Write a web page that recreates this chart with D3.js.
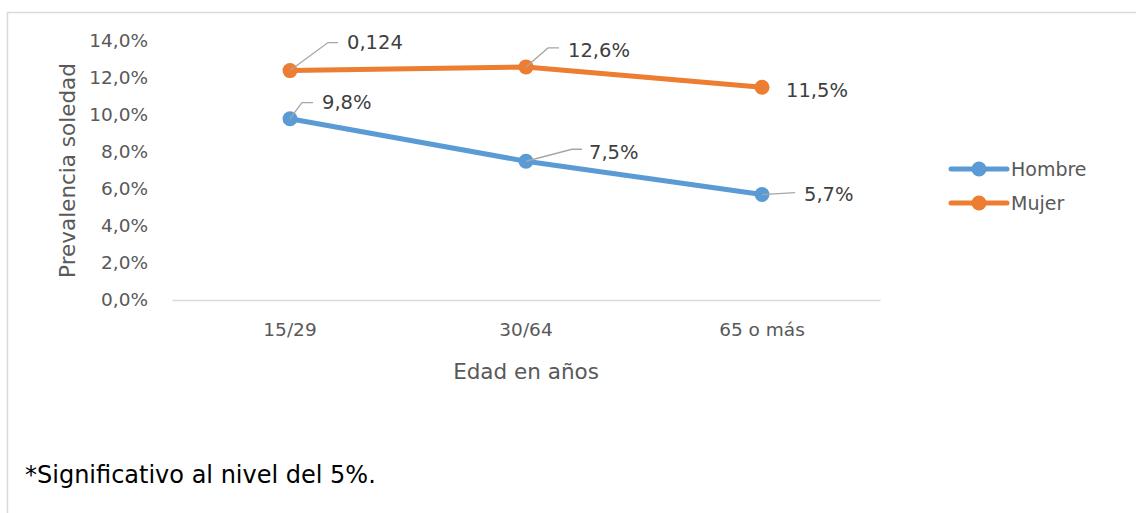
<!DOCTYPE html>
<html>
<head>
<meta charset="utf-8">
<script src="https://cdn.jsdelivr.net/npm/d3@7"></script>
<style>
  html, body { margin: 0; padding: 0; background: #fff; }
</style>
</head>
<body>
<script>
// Data
const categories = ["15/29", "30/64", "65 o más"];
const hombre = [9.8, 7.5, 5.7];
const mujer = [12.4, 12.6, 11.5];
const mujerLabels = ["0,124", "12,6%", "11,5%"];
const hombreLabels = ["9,8%", "7,5%", "5,7%"];
const yTicks = [0, 2, 4, 6, 8, 10, 12, 14];

const width = 1136;
const height = 513;
const marginLeft = 172;
const plotRight = 880;
const yTop = 41;
const yBottom = 300;

const blue = "#5b9bd5";
const orange = "#ed7d31";
const font = "DejaVu Sans";

// label placement relative to point: text dx/dy, leader elbow and end
const mujerLayout = [
  { dx: 57, dy: -28, leader: [[38, -28], [48, -28]] },
  { dx: 42, dy: -16, leader: [[22, -19], [33, -19]] },
  { dx: 24, dy: 3, leader: null },
];
const hombreLayout = [
  { dx: 32, dy: -16, leader: [[12, -16], [23, -16]] },
  { dx: 63, dy: -9, leader: [[46, -12], [56, -12]] },
  { dx: 42, dy: 0, leader: [[33, -2], [33, -2]] },
];

const series = [
  { name: "Hombre", values: hombre, labels: hombreLabels, layout: hombreLayout, color: blue },
  { name: "Mujer", values: mujer, labels: mujerLabels, layout: mujerLayout, color: orange },
];

const x = d3.scaleBand(categories, [marginLeft, plotRight]);
const y = d3.scaleLinear([0, 14], [yBottom, yTop]);
const cx = (i) => x(categories[i]) + x.bandwidth() / 2;

const svg = d3
  .select("body")
  .append("svg")
  .attr("width", width)
  .attr("height", height)
  .attr("viewBox", [0, 0, width, height])
  .attr("font-family", font);

// outer chart border (cropped on right and bottom)
svg
  .append("path")
  .attr("d", `M7.5,${height + 5}V12.5H${width + 5}`)
  .attr("fill", "none")
  .attr("stroke", "#d9d9d9")
  .attr("stroke-width", 1.5);

// y axis labels
const yAxis = d3
  .axisLeft(y)
  .tickValues(yTicks)
  .tickSize(0)
  .tickPadding(0)
  .tickFormat((d) => d.toFixed(1).replace(".", ",") + "%");

svg
  .append("g")
  .attr("transform", `translate(148,0)`)
  .call(yAxis)
  .call((g) => g.select(".domain").remove())
  .call((g) =>
    g
      .selectAll("text")
      .attr("fill", "#595959")
      .attr("font-size", 18.5)
      .attr("font-family", font)
  );

// x axis
const xAxis = d3.axisBottom(x).tickSize(0).tickPadding(23);
svg
  .append("g")
  .attr("transform", `translate(0,${yBottom})`)
  .call(xAxis)
  .call((g) => g.select(".domain").attr("stroke", "#d9d9d9").attr("stroke-width", 1.5))
  .call((g) =>
    g
      .selectAll("text")
      .attr("fill", "#595959")
      .attr("font-size", 18.5)
      .attr("font-family", font)
  );

// axis titles
svg
  .append("text")
  .attr("transform", `translate(67,${(yTop + yBottom) / 2}) rotate(-90)`)
  .attr("text-anchor", "middle")
  .attr("dominant-baseline", "central")
  .attr("fill", "#595959")
  .attr("font-size", 21.5)
  .text("Prevalencia soledad");

svg
  .append("text")
  .attr("x", (marginLeft + plotRight) / 2)
  .attr("y", 371)
  .attr("text-anchor", "middle")
  .attr("dominant-baseline", "central")
  .attr("fill", "#595959")
  .attr("font-size", 21.5)
  .text("Edad en años");

// lines and markers
const line = d3
  .line()
  .x((d, i) => cx(i))
  .y((d) => y(d));

const sg = svg.selectAll("g.series").data(series).join("g").attr("class", "series");

sg.append("path")
  .attr("d", (s) => line(s.values))
  .attr("fill", "none")
  .attr("stroke", (s) => s.color)
  .attr("stroke-width", 5)
  .attr("stroke-linejoin", "round");

sg.selectAll("circle")
  .data((s) => s.values.map((v, i) => ({ v, i, color: s.color })))
  .join("circle")
  .attr("cx", (d) => cx(d.i))
  .attr("cy", (d) => y(d.v))
  .attr("r", 7.5)
  .attr("fill", (d) => d.color);

// data labels with leader lines
const labels = sg
  .selectAll("g.lab")
  .data((s) => s.values.map((v, i) => ({ v, i, text: s.labels[i], lay: s.layout[i] })))
  .join("g")
  .attr("class", "lab")
  .attr("transform", (d) => `translate(${cx(d.i)},${y(d.v)})`);

labels
  .filter((d) => d.lay.leader)
  .append("path")
  .attr("d", (d) => d3.line()([[0, 0], ...d.lay.leader]))
  .attr("fill", "none")
  .attr("stroke", "#a6a6a6")
  .attr("stroke-width", 1.3);

labels
  .append("text")
  .attr("x", (d) => d.lay.dx)
  .attr("y", (d) => d.lay.dy)
  .attr("dominant-baseline", "central")
  .attr("fill", "#404040")
  .attr("font-size", 19.5)
  .text((d) => d.text);

// legend
const legend = svg
  .append("g")
  .selectAll("g")
  .data(series)
  .join("g")
  .attr("transform", (d, i) => `translate(951,${169 + i * 34})`);

legend
  .append("line")
  .attr("x1", 0)
  .attr("x2", 56)
  .attr("stroke", (d) => d.color)
  .attr("stroke-width", 5)
  .attr("stroke-linecap", "round");

legend
  .append("circle")
  .attr("cx", 28)
  .attr("r", 7.5)
  .attr("fill", (d) => d.color);

legend
  .append("text")
  .attr("x", 60)
  .attr("dominant-baseline", "central")
  .attr("fill", "#595959")
  .attr("font-size", 19)
  .text((d) => d.name);

// footnote
svg
  .append("text")
  .attr("x", 25)
  .attr("y", 475)
  .attr("dominant-baseline", "central")
  .attr("fill", "#000")
  .attr("font-size", 24)
  .text("*Significativo al nivel del 5%.");
</script>
</body>
</html>
